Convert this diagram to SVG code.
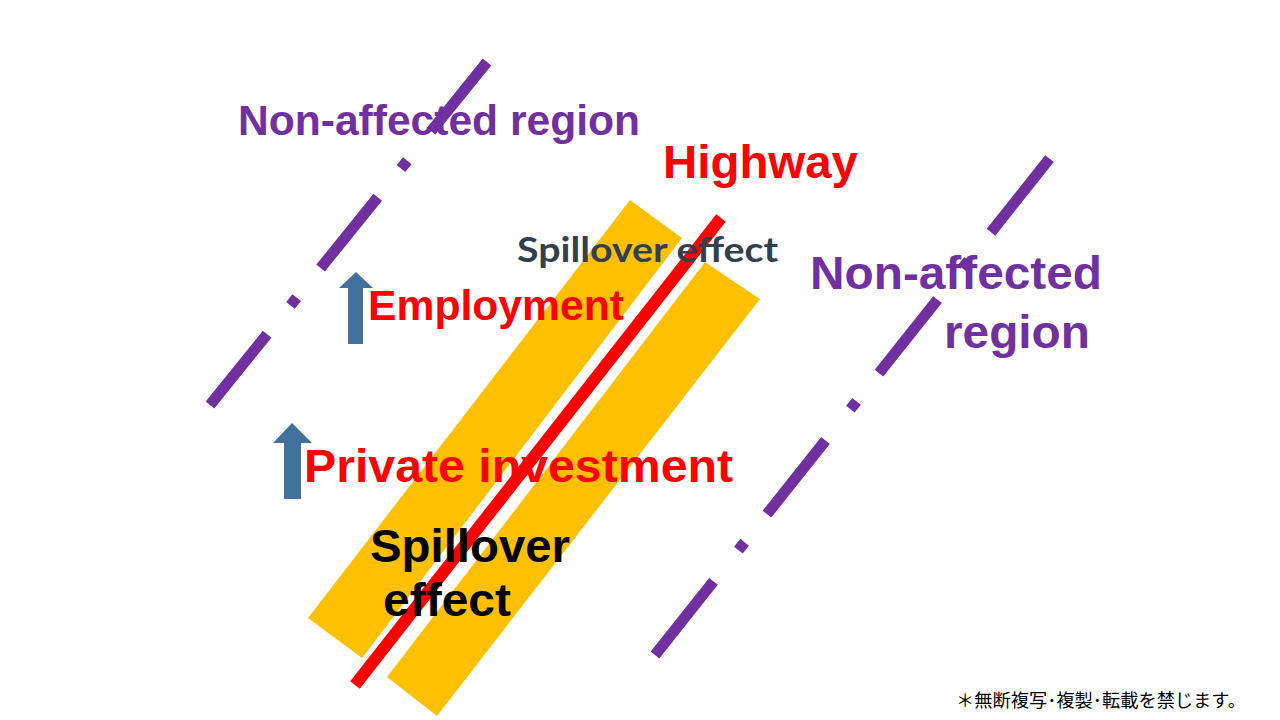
<svg xmlns="http://www.w3.org/2000/svg" width="1280" height="720" viewBox="0 0 1280 720">
  <style>
    .band { fill: #FFC000; }
    .road { stroke: #FF0000; stroke-width: 12; fill: none; }
    .border { stroke: #7030A0; stroke-width: 11; fill: none; stroke-linecap: butt; }
    .arrow { fill: #41719C; }
    .purple { fill: #7030A0; font-family: "Liberation Sans", Arial, sans-serif; font-weight: bold; }
    .red { fill: #FF0000; font-family: "Liberation Sans", Arial, sans-serif; font-weight: bold; }
    .black { fill: #000000; font-family: "Liberation Sans", Arial, sans-serif; font-weight: bold; }
    .slate { fill: #323F4F; font-family: Lato, "Open Sans", sans-serif; font-weight: bold; }
    .note { fill: #000000; font-family: "Noto Sans CJK JP", "Noto Sans", sans-serif; }
  </style>
  <rect width="1280" height="720" fill="#FFFFFF"/>

  <g id="spillover-zone">
    <polygon class="band" points="630,200 682,238 362,658 308,618"/>
    <polygon class="band" points="705,262 760,299 437,716 387,677"/>
  </g>

  <g id="connectors">
    <line id="highway-line" class="road" x1="355" y1="685" x2="721" y2="218"/>
    <line id="border-left" class="border" x1="210" y1="405" x2="487" y2="62" stroke-dasharray="91 37 10 38"/>
    <line id="border-right" class="border" x1="655" y1="655" x2="1050" y2="158" stroke-dasharray="94 40 10 36"/>
  </g>

  <g id="arrow-employment">
    <polygon class="arrow" points="356,272 373,288 363,288 363,344 348,344 348,288 339,288"/>
  </g>
  <g id="arrow-investment">
    <polygon class="arrow" points="292,423 312,443 301,443 301,499 284,499 284,443 273,443"/>
  </g>

  <g id="label-nonaffected-left">
    <text class="purple" x="238" y="135" font-size="42" textLength="402" lengthAdjust="spacingAndGlyphs">Non-affected region</text>
  </g>
  <g id="label-highway">
    <text class="red" x="663" y="178" font-size="46" textLength="195" lengthAdjust="spacingAndGlyphs">Highway</text>
  </g>
  <g id="label-spillover-top">
    <text class="slate" x="517" y="262" font-size="34" textLength="261" lengthAdjust="spacingAndGlyphs">Spillover effect</text>
  </g>
  <g id="label-nonaffected-right">
    <text class="purple" x="810" y="289" font-size="47" textLength="292" lengthAdjust="spacingAndGlyphs">Non-affected</text>
    <text class="purple" x="944" y="348" font-size="47" textLength="146" lengthAdjust="spacingAndGlyphs">region</text>
  </g>
  <g id="label-employment">
    <text class="red" x="368" y="320" font-size="42" textLength="256" lengthAdjust="spacingAndGlyphs">Employment</text>
  </g>
  <g id="label-investment">
    <text class="red" x="304" y="482" font-size="47" textLength="429" lengthAdjust="spacingAndGlyphs">Private investment</text>
  </g>
  <g id="label-spillover-bottom">
    <text class="black" x="370" y="562" font-size="47" textLength="200" lengthAdjust="spacingAndGlyphs">Spillover</text>
    <text class="black" x="383" y="616" font-size="47" textLength="128" lengthAdjust="spacingAndGlyphs">effect</text>
  </g>
  <g id="footer">
    <text class="note" x="956" y="707" font-size="18" textLength="290" lengthAdjust="spacingAndGlyphs">＊無断複写･複製･転載を禁じます。</text>
  </g>
</svg>
